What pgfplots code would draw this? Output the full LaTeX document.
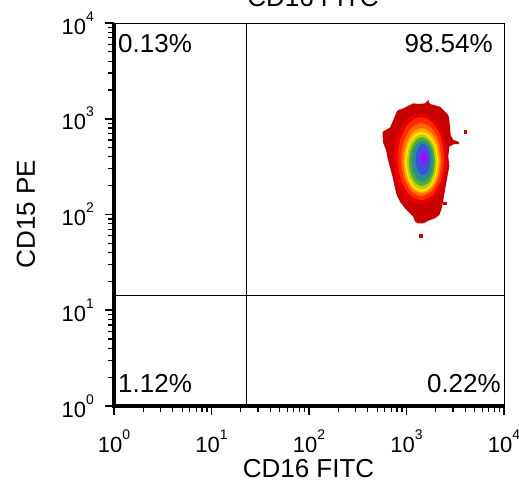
\documentclass[border=0pt]{standalone}
\usepackage{fontspec}
\setmainfont{Liberation Sans}
\usepackage{pgfplots}
\pgfplotsset{compat=1.18}

% density colours, outside -> core
\definecolor{d1}{HTML}{C80000}
\definecolor{d2}{HTML}{E60000}
\definecolor{d3}{HTML}{FF2A00}
\definecolor{d4}{HTML}{FF6A00}
\definecolor{d5}{HTML}{FFA800}
\definecolor{d6}{HTML}{FFDF00}
\definecolor{d7}{HTML}{B4D200}
\definecolor{d8}{HTML}{4CAC3C}
\definecolor{d9}{HTML}{2A8C8C}
\definecolor{d10}{HTML}{3C50DC}
\definecolor{d11}{HTML}{7A28F0}
\definecolor{d12}{HTML}{A800FF}

\newcommand{\pw}[1]{10\raisebox{13pt}{\fontsize{14}{14}\selectfont #1}}

\begin{document}
\begin{tikzpicture}
\path[use as bounding box] (-114pt,-76pt) rectangle (405pt,406pt);
\begin{axis}[
    at={(0,0)}, anchor=south west,
    scale only axis, width=390pt, height=383pt,
    xmin=0, xmax=4, ymin=0, ymax=4,
    clip=false,
    axis line style={line width=0.8pt},
    xtick={0,1,2,3,4}, ytick={0,1,2,3,4},
    xticklabels={\pw{0},\pw{1},\pw{2},\pw{3},\pw{4}},
    yticklabels={\pw{0},\pw{1},\pw{2},\pw{3},\pw{4}},
    minor xtick={0.301,0.477,0.602,0.699,0.778,0.845,0.903,0.954,
                 1.301,1.477,1.602,1.699,1.778,1.845,1.903,1.954,
                 2.301,2.477,2.602,2.699,2.778,2.845,2.903,2.954,
                 3.301,3.477,3.602,3.699,3.778,3.845,3.903,3.954},
    minor ytick={0.301,0.477,0.602,0.699,0.778,0.845,0.903,0.954,
                 1.301,1.477,1.602,1.699,1.778,1.845,1.903,1.954,
                 2.301,2.477,2.602,2.699,2.778,2.845,2.903,2.954,
                 3.301,3.477,3.602,3.699,3.778,3.845,3.903,3.954},
    tick pos=left, tick align=outside,
    major tick length=9pt, minor tick length=6pt,
    major tick style={line width=1.6pt, black},
    minor tick style={line width=1.2pt, black},
    tick label style={font=\fontsize{22}{24}\selectfont, inner sep=0pt},
    xticklabel style={anchor=base, yshift=-37pt},
    yticklabel style={anchor=base east, xshift=-11pt, yshift=-11pt},
]
% outer red cloud
\addplot[fill=d1, draw=none] coordinates {
 (3.036,3.144) (3.070,3.161) (3.121,3.154) (3.190,3.161) (3.224,3.196)
 (3.241,3.154) (3.344,3.126) (3.395,3.074) (3.429,3.039) (3.439,2.987)
 (3.446,2.917) (3.453,2.830) (3.480,2.778) (3.532,2.761) (3.542,2.736)
 (3.480,2.733) (3.439,2.708) (3.429,2.604) (3.439,2.500) (3.419,2.395)
 (3.395,2.256) (3.378,2.151) (3.361,2.064) (3.337,1.995) (3.292,1.960)
 (3.241,1.943) (3.173,1.908) (3.121,1.908) (3.087,1.925) (3.070,1.977)
 (3.036,2.012) (2.985,2.064) (2.933,2.134) (2.899,2.204) (2.882,2.273)
 (2.865,2.360) (2.848,2.430) (2.824,2.517) (2.803,2.604) (2.790,2.674)
 (2.762,2.743) (2.756,2.813) (2.756,2.865) (2.790,2.883) (2.831,2.910)
 (2.865,2.987) (2.899,3.074) (2.916,3.091) (2.968,3.109) (3.036,3.144)
} -- cycle;
\addplot[only marks, mark=square*, mark size=1.4pt, color=d1] coordinates {
 (3.603,2.865) (3.149,1.779) (3.388,2.117)
};
\addplot[fill=d2, draw=none, smooth] coordinates {
 (3.422,2.584) (3.384,2.821) (3.283,2.994) (3.143,3.057) (3.004,2.994)
 (2.902,2.821) (2.865,2.584) (2.902,2.347) (3.004,2.174) (3.143,2.110)
 (3.283,2.174) (3.384,2.347) (3.422,2.584)
};
\addplot[fill=d3, draw=none, smooth] coordinates {
 (3.388,2.583) (3.356,2.799) (3.268,2.957) (3.149,3.015) (3.029,2.957)
 (2.941,2.799) (2.909,2.583) (2.941,2.367) (3.029,2.209) (3.149,2.151)
 (3.268,2.209) (3.356,2.367) (3.388,2.583)
};
\addplot[fill=d4, draw=none, smooth] coordinates {
 (3.361,2.573) (3.333,2.763) (3.257,2.901) (3.153,2.952) (3.048,2.901)
 (2.972,2.763) (2.944,2.573) (2.972,2.383) (3.048,2.244) (3.153,2.193)
 (3.257,2.244) (3.333,2.383) (3.361,2.573)
};
\addplot[fill=d5, draw=none, smooth] coordinates {
 (3.344,2.561) (3.319,2.730) (3.250,2.855) (3.156,2.900) (3.062,2.855)
 (2.993,2.730) (2.968,2.561) (2.993,2.391) (3.062,2.267) (3.156,2.221)
 (3.250,2.267) (3.319,2.391) (3.344,2.561)
};
\addplot[fill=d6, draw=none, smooth] coordinates {
 (3.326,2.552) (3.303,2.708) (3.241,2.823) (3.156,2.865) (3.070,2.823)
 (3.008,2.708) (2.985,2.552) (3.008,2.395) (3.070,2.280) (3.156,2.238)
 (3.241,2.280) (3.303,2.395) (3.326,2.552)
};
\addplot[fill=d7, draw=none, smooth] coordinates {
 (3.309,2.549) (3.289,2.696) (3.233,2.796) (3.157,2.834) (3.081,2.796)
 (3.025,2.696) (3.005,2.549) (3.025,2.406) (3.081,2.301) (3.157,2.263)
 (3.233,2.301) (3.289,2.406) (3.309,2.549)
};
\addplot[fill=d8, draw=none, smooth] coordinates {
 (3.292,2.552) (3.274,2.679) (3.226,2.772) (3.159,2.806) (3.093,2.772)
 (3.044,2.679) (3.026,2.552) (3.044,2.425) (3.093,2.332) (3.159,2.298)
 (3.226,2.332) (3.274,2.425) (3.292,2.552)
};
\addplot[fill=d9, draw=none, smooth] coordinates {
 (3.275,2.557) (3.260,2.664) (3.220,2.742) (3.164,2.771) (3.109,2.742)
 (3.068,2.664) (3.053,2.557) (3.068,2.450) (3.109,2.372) (3.164,2.343)
 (3.220,2.372) (3.260,2.450) (3.275,2.557)
};
\addplot[fill=d10, draw=none, smooth] coordinates {
 (3.244,2.575) (3.234,2.655) (3.207,2.714) (3.169,2.736) (3.132,2.714)
 (3.104,2.655) (3.094,2.575) (3.104,2.494) (3.132,2.435) (3.169,2.413)
 (3.207,2.435) (3.234,2.494) (3.244,2.575)
};
\addplot[fill=d11, draw=none, smooth] coordinates {
 (3.221,2.594) (3.215,2.638) (3.200,2.669) (3.178,2.681) (3.157,2.669)
 (3.141,2.638) (3.135,2.594) (3.141,2.551) (3.157,2.519) (3.178,2.507)
 (3.200,2.519) (3.215,2.551) (3.221,2.594)
};
\addplot[fill=d12, draw=none, smooth] coordinates {
 (3.203,2.596) (3.191,2.633) (3.168,2.633) (3.156,2.596) (3.168,2.558)
 (3.191,2.558) (3.203,2.596)
};
% quadrant gates
\addplot[black, line width=1pt] coordinates {(1.361,0) (1.361,4)};
\addplot[black, line width=1pt] coordinates {(0,1.159) (4,1.159)};
% heavy left and bottom axis lines
\draw[line width=3.2pt] (rel axis cs:0,1) -- (rel axis cs:0,0) -- (rel axis cs:1,0);
\node[anchor=base west, inner sep=0pt, font=\fontsize{26}{28}\selectfont] at (axis cs:0.041,3.697) {0.13\%};
\node[anchor=base east, inner sep=0pt, font=\fontsize{26}{28}\selectfont] at (axis cs:3.887,3.697) {98.54\%};
\node[anchor=base west, inner sep=0pt, font=\fontsize{26}{28}\selectfont] at (axis cs:0.041,0.146) {1.12\%};
\node[anchor=base east, inner sep=0pt, font=\fontsize{26}{28}\selectfont] at (axis cs:3.969,0.146) {0.22\%};
\end{axis}
\node[anchor=base, inner sep=0pt, font=\fontsize{26}{28}\selectfont] at (194.5pt,-71pt) {CD16 FITC};
\node[anchor=base, inner sep=0pt, rotate=90, font=\fontsize{26}{28}\selectfont] at (-79pt,192pt) {CD15 PE};
\node[anchor=base, inner sep=0pt, font=\fontsize{26}{28}\selectfont] at (199pt,399pt) {CD16 FITC};
\end{tikzpicture}
\end{document}
